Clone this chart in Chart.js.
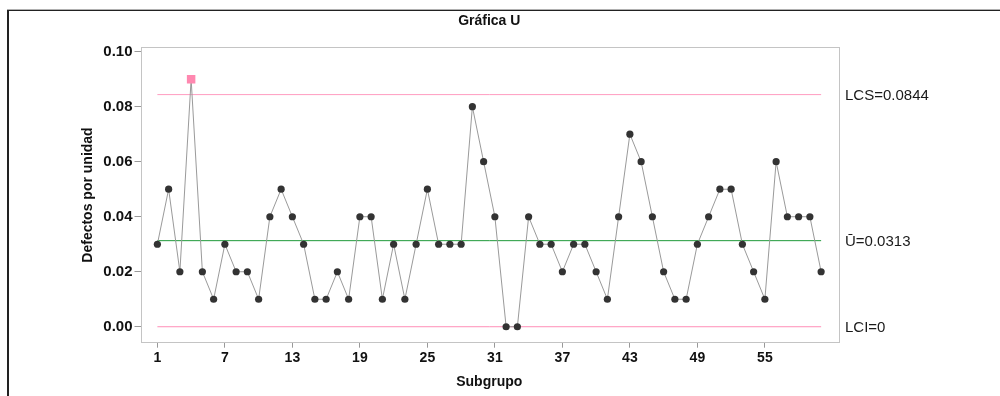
<!DOCTYPE html>
<html>
<head>
<meta charset="utf-8">
<script src="https://cdn.jsdelivr.net/npm/chart.js@4.4.1/dist/chart.umd.min.js"></script>
<style>
  html, body { margin: 0; padding: 0; background: #fff; }
  canvas { display: block; }
</style>
</head>
<body>
<canvas id="c" width="1000" height="396"></canvas>
<script>
// ---- data ----
const subgroups = [];
for (let i = 1; i <= 60; i++) subgroups.push(i);
const defects = [
  0.03, 0.05, 0.02, 0.09, 0.02, 0.01, 0.03, 0.02, 0.02, 0.01,
  0.04, 0.05, 0.04, 0.03, 0.01, 0.01, 0.02, 0.01, 0.04, 0.04,
  0.01, 0.03, 0.01, 0.03, 0.05, 0.03, 0.03, 0.03, 0.08, 0.06,
  0.04, 0.00, 0.00, 0.04, 0.03, 0.03, 0.02, 0.03, 0.03, 0.02,
  0.01, 0.04, 0.07, 0.06, 0.04, 0.02, 0.01, 0.01, 0.03, 0.04,
  0.05, 0.05, 0.03, 0.02, 0.01, 0.06, 0.04, 0.04, 0.04, 0.02
];
const ucl = 0.0844;
const centerLine = 0.0313;
const lcl = 0;
const limitLabels = ['LCS=0.0844', 'Ū=0.0313', 'LCI=0'];
const xTickValues = [1, 7, 13, 19, 25, 31, 37, 43, 49, 55];
const yTickValues = [0, 0.02, 0.04, 0.06, 0.08, 0.10];
const titleText = 'Gráfica U';
const xTitle = 'Subgrupo';
const yTitle = 'Defectos por unidad';

const FONT = '"Liberation Sans", Arial, sans-serif';
const first = subgroups[0], last = subgroups[subgroups.length - 1];

const points = subgroups.map((s, i) => ({ x: s, y: defects[i] }));
const hline = v => [{ x: first, y: v }, { x: last, y: v }];

const decor = {
  id: 'decor',
  beforeDraw(chart) {
    const ctx = chart.ctx;
    ctx.save();
    ctx.fillStyle = '#fff';
    ctx.fillRect(0, 0, chart.width, chart.height);
    // outer frame (top and left)
    ctx.fillStyle = '#b0b0b0';
    ctx.fillRect(7, 9, chart.width - 7, 1);
    ctx.fillStyle = '#222';
    ctx.fillRect(7, 10, chart.width - 7, 1);
    ctx.fillRect(7, 10, 2, chart.height - 10);
    ctx.restore();
  },
  afterDatasetsDraw(chart) {
    const ctx = chart.ctx;
    const a = chart.chartArea;
    const y = chart.scales.y;
    ctx.save();
    ctx.strokeStyle = '#c4c4c4';
    ctx.lineWidth = 1;
    ctx.strokeRect(Math.round(a.left) + 0.5, Math.round(a.top) + 0.5,
      Math.round(a.right - a.left), Math.round(a.bottom - a.top));
    // title centred over plot area
    ctx.fillStyle = '#111';
    ctx.font = 'bold 14px ' + FONT;
    ctx.textAlign = 'center';
    ctx.textBaseline = 'middle';
    ctx.fillText(titleText, (a.left + a.right) / 2, 21);
    // limit labels
    ctx.fillStyle = '#1a1a1a';
    ctx.font = '15px ' + FONT;
    ctx.textBaseline = 'middle';
    ctx.textAlign = 'left';
    [ucl, centerLine, lcl].forEach((v, i) => {
      ctx.fillText(limitLabels[i], a.right + 7, y.getPixelForValue(v) + 1);
    });
    ctx.restore();
  }
};

new Chart(document.getElementById('c'), {
  type: 'line',
  data: {
    datasets: [
      {
        label: 'LCS', data: hline(ucl), borderColor: '#ff9cc0', borderWidth: 1,
        pointRadius: 0, fill: false, order: 3
      },
      {
        label: 'U', data: hline(centerLine), borderColor: '#1f9a3a', borderWidth: 1,
        pointRadius: 0, fill: false, order: 3
      },
      {
        label: 'LCI', data: hline(lcl), borderColor: '#ff8fb8', borderWidth: 1,
        pointRadius: 0, fill: false, order: 3
      },
      {
        label: 'u', data: points, borderColor: '#9a9a9a', borderWidth: 1,
        tension: 0, fill: false, order: 1,
        pointStyle: ctx => (ctx.raw && ctx.raw.y > ucl ? 'rect' : 'circle'),
        pointRadius: ctx => (ctx.raw && ctx.raw.y > ucl ? 6 : 3.6),
        pointBackgroundColor: ctx => (ctx.raw && ctx.raw.y > ucl ? '#ff88b0' : '#333333'),
        pointBorderColor: ctx => (ctx.raw && ctx.raw.y > ucl ? '#ff88b0' : '#333333'),
        pointBorderWidth: 0
      }
    ]
  },
  options: {
    responsive: false,
    animation: false,
    devicePixelRatio: 1,
    layout: { padding: { left: 0, top: 47.3, right: 162, bottom: 0 } },
    plugins: {
      legend: { display: false },
      tooltip: { enabled: false },
      title: { display: false }
    },
    scales: {
      x: {
        type: 'linear', min: -0.5, max: 61.5,
        afterBuildTicks: s => { s.ticks = xTickValues.map(v => ({ value: v })); },
        afterFit: s => { s.height = 396 - 342.7; },
        border: { display: false },
        grid: { drawOnChartArea: false, drawTicks: true, tickLength: 5, color: '#999' },
        ticks: {
          color: '#111', padding: 2, maxRotation: 0, autoSkip: false,
          font: { family: FONT, size: 14, weight: 'bold' },
          callback: v => String(v)
        },
        title: {
          display: true, text: xTitle, color: '#111',
          font: { family: FONT, size: 14, weight: 'bold' },
          padding: { top: 0, bottom: 5 }
        }
      },
      y: {
        type: 'linear', min: -0.0058, max: 0.1016,
        afterBuildTicks: s => { s.ticks = yTickValues.map(v => ({ value: v })); },
        afterFit: s => { s.width = 140.5; },
        border: { display: false },
        grid: { drawOnChartArea: false, drawTicks: true, tickLength: 6, color: '#999' },
        ticks: {
          color: '#111', padding: 2,
          font: { family: FONT, size: 15, weight: 'bold' },
          callback: v => Number(v).toFixed(2)
        },
        title: {
          display: true, text: yTitle, color: '#111',
          font: { family: FONT, size: 14, weight: 'bold' },
          padding: { top: 80, bottom: 0 }
        }
      }
    }
  },
  plugins: [decor]
});
</script>
</body>
</html>
